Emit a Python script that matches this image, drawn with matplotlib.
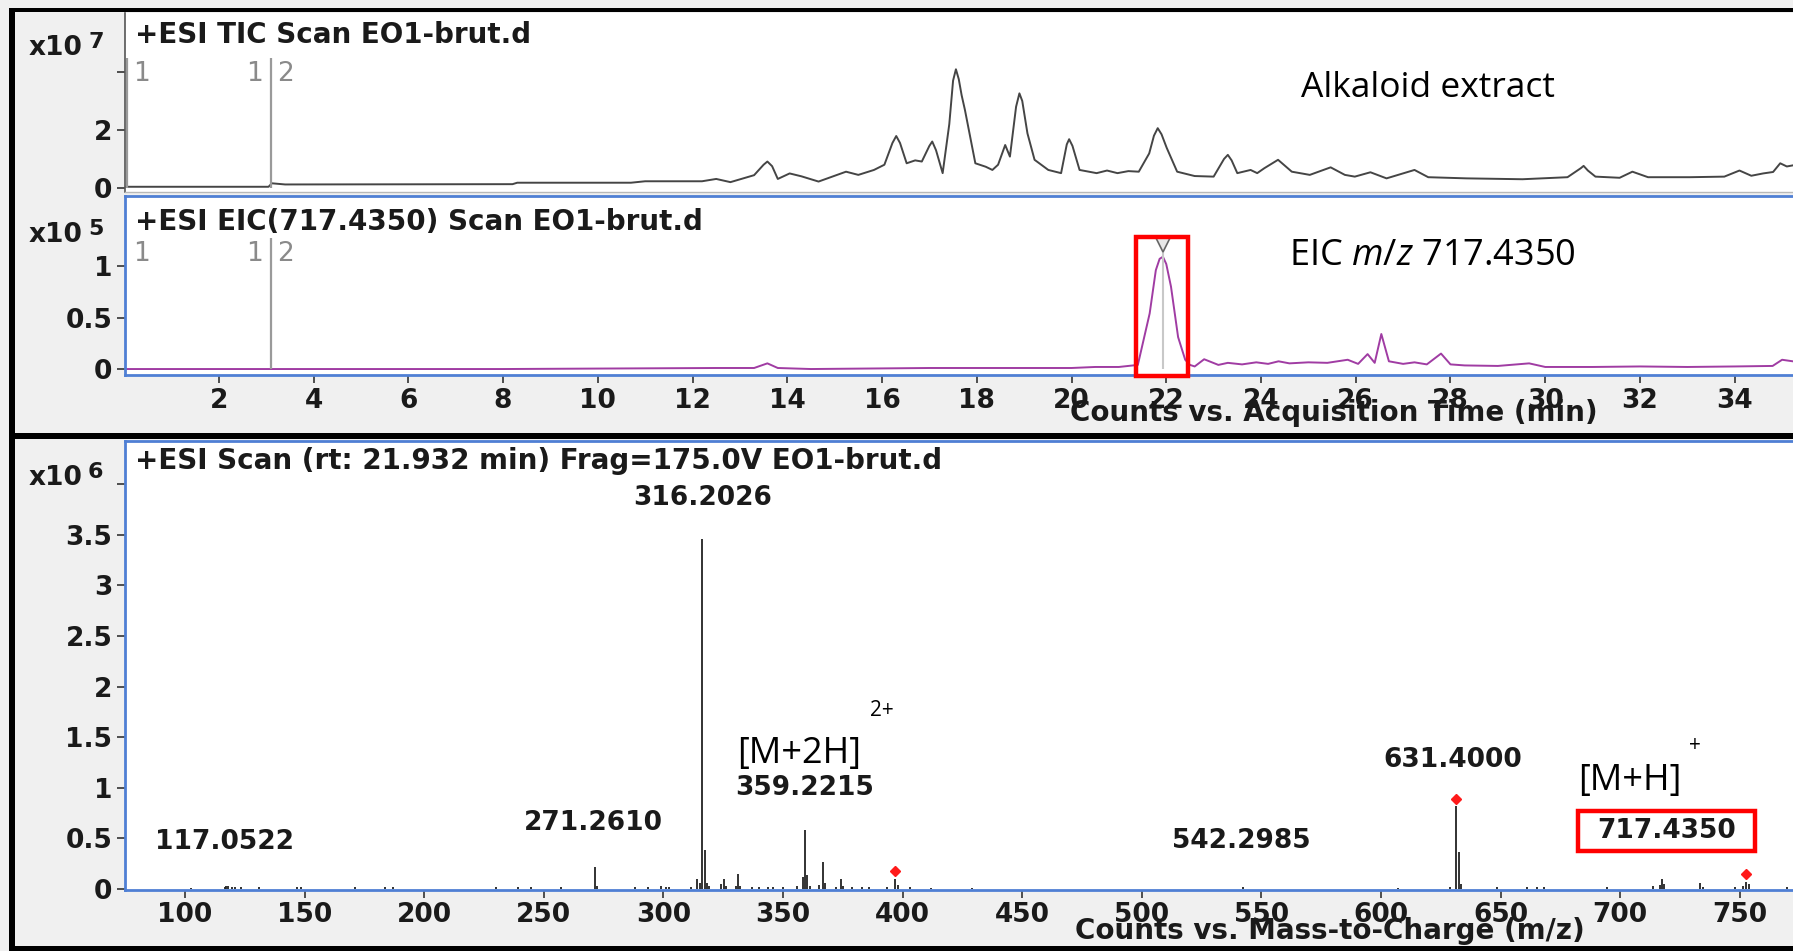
import matplotlib
matplotlib.use("Agg")
import matplotlib.pyplot as plt
from matplotlib.patches import Rectangle

W, H = 1793, 951

# TIC, counts x1e7 vs acquisition time (min)
tic_time = [0.05, 3.05, 3.12, 3.4, 8.2, 8.3, 10.7, 11.0, 12.2, 12.5, 12.8, 13.3, 13.5, 13.58,
            13.68, 13.8, 14.05, 14.3, 14.66, 15.24, 15.5, 15.83, 16.05, 16.22, 16.3, 16.38,
            16.52, 16.7, 16.84, 17.0, 17.06, 17.14, 17.28, 17.42, 17.5, 17.56, 17.62, 17.68,
            17.75, 17.97, 18.19, 18.33, 18.45, 18.6, 18.7, 18.83, 18.9, 18.96, 19.07, 19.22,
            19.51, 19.78, 19.9, 19.95, 20.02, 20.17, 20.53, 20.75, 20.97, 21.2, 21.42, 21.64,
            21.74, 21.82, 21.9, 22.01, 22.23, 22.6, 23.0, 23.22, 23.3, 23.38, 23.5, 23.78,
            23.92, 24.07, 24.36, 24.65, 25.03, 25.47, 25.77, 25.98, 26.31, 26.65, 27.24,
            27.53, 28.34, 29.52, 30.47, 30.75, 30.81, 30.9, 31.06, 31.57, 31.84, 32.17,
            33.05, 33.78, 34.1, 34.35, 34.6, 34.81, 34.96, 35.1, 35.3]
tic_counts = [0.04, 0.04, 0.16, 0.12, 0.13, 0.18, 0.18, 0.23, 0.23, 0.31, 0.2, 0.44, 0.8, 0.91,
              0.75, 0.31, 0.5, 0.4, 0.22, 0.56, 0.45, 0.62, 0.8, 1.55, 1.79, 1.55,
              0.85, 0.95, 0.91, 1.45, 1.6, 1.3, 0.51, 2.2, 3.7, 4.09, 3.75, 3.2,
              2.69, 0.85, 0.73, 0.62, 0.8, 1.48, 1.08, 2.8, 3.26, 3.0, 1.88, 0.97,
              0.62, 0.51, 1.5, 1.68, 1.45, 0.62, 0.51, 0.6, 0.51, 0.58, 0.56, 1.19,
              1.8, 2.06, 1.85, 1.38, 0.56, 0.41, 0.39, 1.0, 1.14, 0.95, 0.51, 0.62,
              0.51, 0.68, 0.97, 0.56, 0.45, 0.71, 0.45, 0.39, 0.54, 0.33, 0.62,
              0.37, 0.33, 0.30, 0.37, 0.68, 0.76, 0.6, 0.39, 0.35, 0.56, 0.37,
              0.37, 0.39, 0.6, 0.42, 0.5, 0.55, 0.85, 0.74, 0.8]

# EIC m/z 717.4350, counts x1e5
eic_time = [0.02, 3.1, 8.0, 12.5, 13.3, 13.58, 13.8, 14.5, 17.0, 18.0, 20.0, 20.5, 21.0,
            21.4, 21.65, 21.78, 21.86, 21.93, 22.0, 22.1, 22.25, 22.4, 22.5, 22.6, 22.8, 23.1,
            23.3, 23.6, 23.9, 24.15, 24.37, 24.6, 25.0, 25.4, 25.83, 26.05, 26.25, 26.4,
            26.54, 26.7, 27.0, 27.24, 27.5, 27.8, 28.0, 28.3, 29.0, 29.66, 30.0, 31.0, 32.0,
            33.0, 34.0, 34.8, 35.0, 35.3]
eic_counts = [0.0, 0.0, 0.0, 0.01, 0.01, 0.055, 0.01, 0.0, 0.01, 0.01, 0.01, 0.02, 0.02,
              0.04, 0.54, 0.96, 1.07, 1.09, 1.02, 0.8, 0.31, 0.09, 0.04, 0.025, 0.095, 0.04,
              0.06, 0.045, 0.065, 0.05, 0.075, 0.055, 0.065, 0.06, 0.09, 0.05, 0.145, 0.06,
              0.34, 0.075, 0.05, 0.065, 0.045, 0.15, 0.045, 0.035, 0.03, 0.055, 0.02, 0.02,
              0.025, 0.02, 0.025, 0.03, 0.09, 0.07]

# MS scan at rt 21.932 min, counts x1e6
ms_mz = [102.6, 116.5, 117.05, 118.0, 119.5, 121.0, 123.5, 131.0, 147.0, 148.5, 171.0,
         183.6, 187.0, 230.0, 239.0, 244.5, 257.0, 271.26, 272.3, 288.0, 293.5, 299.0,
         301.0, 302.5, 311.5, 314.2, 315.2, 316.2, 317.2, 318.2, 319.2, 324.2, 325.2,
         326.2, 330.2, 331.2, 332.2, 337.0, 340.0, 343.5, 346.0, 350.0, 356.0, 358.2,
         359.22, 360.2, 361.2, 365.2, 366.6, 367.6, 372.0, 374.1, 375.1, 379.0, 383.0,
         386.0, 393.5, 396.8, 398.0, 403.0, 412.0, 429.0, 542.3, 607.0, 629.0, 631.4,
         632.4, 633.4, 648.4, 661.0, 665.0, 668.0, 694.4, 713.7, 716.4, 717.44, 718.4,
         733.4, 734.4, 748.0, 751.5, 752.6, 753.6, 769.6]
ms_int = [0.01, 0.02, 0.03, 0.025, 0.02, 0.02, 0.015, 0.015, 0.02, 0.015, 0.015,
          0.015, 0.015, 0.015, 0.015, 0.02, 0.015, 0.22, 0.03, 0.015, 0.02, 0.03,
          0.02, 0.015, 0.015, 0.1, 0.06, 3.46, 0.385, 0.06, 0.03, 0.05, 0.1,
          0.03, 0.03, 0.15, 0.03, 0.02, 0.015, 0.015, 0.015, 0.015, 0.03, 0.12,
          0.58, 0.14, 0.03, 0.04, 0.27, 0.06, 0.02, 0.1, 0.03, 0.02, 0.015,
          0.015, 0.015, 0.1, 0.04, 0.015, 0.01, 0.01, 0.02, 0.01, 0.015, 0.82,
          0.37, 0.05, 0.02, 0.015, 0.02, 0.015, 0.015, 0.025, 0.04, 0.1, 0.05,
          0.06, 0.02, 0.02, 0.03, 0.07, 0.05, 0.02]

label_text = ["117.0522", "271.2610", "316.2026", "359.2215", "542.2985", "631.4000", "717.4350"]
label_x = [116.3, 270.6, 316.2, 359.2, 541.5, 630.1, 719.4]
label_y = [0.46, 0.65, 3.86, 1.00, 0.47, 1.27, 0.57]

diamond_mz = [396.8, 631.4, 752.6]
diamond_y = [0.18, 0.89, 0.15]

segment_time = [0.06, 3.1]
eic_apex = 21.93

BG = "#f0f0f0"
BLUE = "#4f7fd4"
INK = "#1a1a1a"
AG = dict(family="DejaVu Sans", weight="bold", color=INK)
TICK_SIZE = 19

plt.rcParams["mathtext.fontset"] = "custom"
plt.rcParams["mathtext.rm"] = "Open Sans"
plt.rcParams["mathtext.it"] = "Open Sans:italic"

fig = plt.figure(figsize=(W / 100, H / 100), dpi=100, facecolor=BG)


def fx(px):
    return px / W


def fy(py):
    return 1 - py / H


def box(px_left, py_top, py_bottom):
    return [fx(px_left), fy(py_bottom), (W - px_left) / W, (py_bottom - py_top) / H]


def style_axis(ax, edge):
    for side in ["left", "top", "bottom"]:
        ax.spines[side].set_color(edge)
        ax.spines[side].set_linewidth(2)
    ax.spines["right"].set_visible(False)
    ax.tick_params(axis="both", direction="out", length=6, width=1.2, color="#333333",
                   pad=3, labelsize=TICK_SIZE, labelcolor=INK)
    for lab in ax.get_xticklabels() + ax.get_yticklabels():
        lab.set_fontweight("bold")


def segment_labels(ax, y):
    kw = dict(color="#8a8a8a", fontsize=19, va="center")
    ax.text(0.36, y, "1", ha="center", **kw)
    ax.text(2.93, y, "1", ha="right", **kw)
    ax.text(3.23, y, "2", ha="left", **kw)


# ---- TIC panel ----
ax1 = fig.add_axes(box(125, 13, 192))
ax1.plot(tic_time, tic_counts, color="#454545", lw=1.4)
ax1.vlines(segment_time, 0, 4.48, color="#9a9a9a", lw=1.6)
ax1.set_xlim(0.02, 35.23)
ax1.set_ylim(-0.14, 6.03)
ax1.set_yticks([0, 2, 4], ["0", "2", ""])
ax1.set_xticks([])
style_axis(ax1, "#555555")
ax1.spines["top"].set_visible(False)
ax1.spines["left"].set_linewidth(1.2)
ax1.spines["bottom"].set_color("#b8b8b8")
ax1.spines["bottom"].set_linewidth(1)
segment_labels(ax1, 3.93)
ax1.text(24.85, 3.45, "Alkaloid extract", family="Open Sans", fontsize=25.5, color="black",
         va="center", ha="left")

# ---- EIC panel ----
ax2 = fig.add_axes(box(125, 196, 375))
ax2.plot(eic_time, eic_counts, color="#a03ca3", lw=1.4)
ax2.vlines(segment_time[1], 0, 1.27, color="#9a9a9a", lw=1.6)
ax2.vlines(eic_apex, 0, 1.15, color="#c8c8c8", lw=1.5)
ax2.plot([eic_apex], [1.2], marker="v", ms=10, mfc="#e8e8e8", mec="#666666", mew=1.2)
ax2.add_patch(Rectangle((21.36, -0.068), 1.09, 1.348, fill=False, ec="#ff0000",
                        lw=3.2, clip_on=False, zorder=5))
ax2.set_xlim(0.02, 35.23)
ax2.set_ylim(-0.058, 1.68)
ax2.set_xticks(range(2, 35, 2))
ax2.set_yticks([0, 0.5, 1], ["0", "0.5", "1"])
style_axis(ax2, BLUE)
segment_labels(ax2, 1.12)
ax2.text(24.6, 1.1, "EIC $m/z$ 717.4350", family="Open Sans", fontsize=26, color="black",
         va="center", ha="left")
ax2.set_xlabel("Counts vs. Acquisition Time (min)", fontsize=20, **AG)
ax2.xaxis.set_label_coords((1334 - 125) / (W - 125), -(413 - 375) / (375 - 196))
ax2.xaxis.label.set_va("center")

# ---- mass spectrum panel ----
ax3 = fig.add_axes(box(125, 441, 890))
ax3.vlines(ms_mz, 0, ms_int, color="#222222", lw=1.3)
ax3.plot(diamond_mz, diamond_y, ls="none", marker="D", ms=5.5, color="#ff1a1a")
for txt, x, y in zip(label_text, label_x, label_y):
    ax3.text(x, y, txt, ha="center", va="center", fontsize=19, **AG)
ax3.add_patch(Rectangle((682.4, 0.375), 74.0, 0.395, fill=False, ec="#ff0000", lw=3.2,
                        zorder=5))
ax3.text(330.8, 1.33, "[M+2H]", family="Open Sans", fontsize=26, color="black",
         ha="left", va="center")
ax3.text(386.4, 1.76, "2+", family="Open Sans", fontsize=15, color="black",
         ha="left", va="center")
ax3.text(682.4, 1.07, "[M+H]", family="Open Sans", fontsize=26, color="black",
         ha="left", va="center")
ax3.text(731.0, 1.42, "+", family="Open Sans", fontsize=15, color="black",
         ha="center", va="center")
ax3.set_xlim(74.9, 772.2)
ax3.set_ylim(-0.01, 4.427)
ax3.set_xticks(range(100, 751, 50))
ax3.set_yticks([0, 0.5, 1, 1.5, 2, 2.5, 3, 3.5, 4],
               ["0", "0.5", "1", "1.5", "2", "2.5", "3", "3.5", ""])
style_axis(ax3, BLUE)
ax3.set_xlabel("Counts vs. Mass-to-Charge (m/z)", fontsize=20, **AG)
ax3.xaxis.set_label_coords((1330 - 125) / (W - 125), -(931 - 890) / (890 - 441))
ax3.xaxis.label.set_va("center")

# ---- panel titles and scale labels ----
titles = [("+ESI TIC Scan EO1-brut.d", 35),
          ("+ESI EIC(717.4350) Scan EO1-brut.d", 222),
          ("+ESI Scan (rt: 21.932 min) Frag=175.0V EO1-brut.d", 461)]
for txt, py in titles:
    fig.text(fx(135), fy(py), txt, fontsize=20, va="center", ha="left", **AG)

for exp, py in [("7", 48), ("5", 235), ("6", 478)]:
    fig.text(fx(82), fy(py), "x10", fontsize=19, va="center", ha="right", **AG)
    fig.text(fx(88), fy(py - 6), exp, fontsize=16, va="center", ha="left", **AG)

# ---- window frame ----
for x0, y0, w, h in [(9, 8, 6, 943), (9, 8, W - 9, 4), (9, 433, W - 9, 6), (9, 946, W - 9, 5)]:
    fig.add_artist(Rectangle((fx(x0), fy(y0 + h)), w / W, h / H, transform=fig.transFigure,
                             color="black", lw=0))

fig.savefig("out.png", dpi=100, facecolor=BG)
